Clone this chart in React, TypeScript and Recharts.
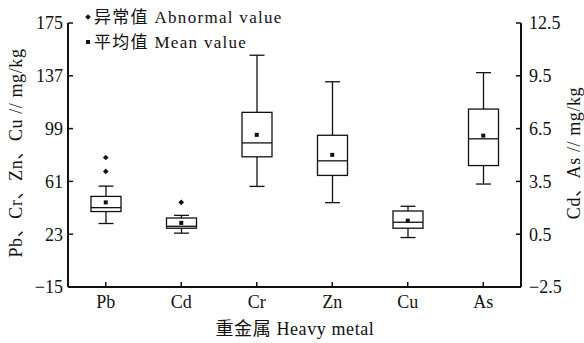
import { ComposedChart, Bar, Scatter, XAxis, YAxis } from "recharts"

const metals = ["Pb", "Cd", "Cr", "Zn", "Cu", "As"]
const axisOf = ["left", "right", "left", "left", "left", "right"]
const whiskerLow = [30.7, 0.56, 57.4, 45.7, 20.6, 3.35]
const quartile1 = [39.3, 0.84, 78.7, 65.3, 27.3, 4.4]
const medians = [42.1, 0.95, 88.7, 75.8, 31.6, 5.92]
const quartile3 = [50.2, 1.42, 110.7, 94.2, 39.7, 7.61]
const whiskerHigh = [57.6, 1.57, 151.8, 132.7, 43.1, 9.68]
const means = [45.9, 1.14, 94.5, 80.1, 32.8, 6.1]
const outliers = [[78.2, 68.2], [2.31], [], [], [], []]

const leftTicks = [-15, 23, 61, 99, 137, 175]
const rightTicks = [-2.5, 0.5, 3.5, 6.5, 9.5, 12.5]

const FONT = "'Liberation Serif', 'Noto Sans CJK SC', serif"
const INK = "#111"

const rows = metals.map((name, i) => {
  const side = axisOf[i]
  const onLeft = side === "left"
  const range = [whiskerLow[i], whiskerHigh[i]]
  const outs = outliers[i]
  return {
    name,
    side,
    low: whiskerLow[i],
    q1: quartile1[i],
    median: medians[i],
    q3: quartile3[i],
    high: whiskerHigh[i],
    leftRange: onLeft ? range : null,
    rightRange: onLeft ? null : range,
    meanLeft: onLeft ? means[i] : null,
    meanRight: onLeft ? null : means[i],
    out0Left: onLeft && outs.length > 0 ? outs[0] : null,
    out1Left: onLeft && outs.length > 1 ? outs[1] : null,
    out0Right: !onLeft && outs.length > 0 ? outs[0] : null,
  }
})

const fmt = (v: number) => (v < 0 ? "\u2212" + Math.abs(v) : String(v))

function BoxShape(props: any) {
  const { x, y, width, height, payload, side } = props
  if (!payload || payload.side !== side || !Number.isFinite(y) || !Number.isFinite(height) || height <= 0) return <g />
  const { low, high, q1, median, q3 } = payload
  const py = (v: number) => y + (height * (high - v)) / (high - low)
  const cx = x + width / 2
  const cap = width / 4
  return (
    <g stroke={INK} strokeWidth={1.3} fill="none">
      <line x1={cx} x2={cx} y1={py(high)} y2={py(q3)} />
      <line x1={cx} x2={cx} y1={py(q1)} y2={py(low)} />
      <line x1={cx - cap} x2={cx + cap} y1={py(high)} y2={py(high)} />
      <line x1={cx - cap} x2={cx + cap} y1={py(low)} y2={py(low)} />
      <rect x={x} y={py(q3)} width={width} height={py(q1) - py(q3)} fill="#fff" />
      <line x1={x} x2={x + width} y1={py(median)} y2={py(median)} />
    </g>
  )
}

function MeanMark(props: any) {
  const { cx, cy, payload, field } = props
  if (!payload || payload[field] == null || !Number.isFinite(cy)) return <g />
  return <rect x={cx - 2} y={cy - 2} width={4} height={4} fill={INK} />
}

function OutlierMark(props: any) {
  const { cx, cy, payload, field } = props
  if (!payload || payload[field] == null || !Number.isFinite(cy)) return <g />
  return <path d={`M${cx},${cy - 2.8} L${cx + 2.8},${cy} L${cx},${cy + 2.8} L${cx - 2.8},${cy} Z`} fill={INK} />
}

function LeftTick({ x, y, payload }: any) {
  return (
    <g>
      <line x1={x} x2={x + 5} y1={y} y2={y} stroke={INK} strokeWidth={1.5} />
      <text x={x - 5} y={y} dy="0.35em" textAnchor="end" fontFamily={FONT} fontSize={18} fill={INK}>
        {fmt(payload.value)}
      </text>
    </g>
  )
}

function RightTick({ x, y, payload }: any) {
  return (
    <g>
      <line x1={x - 5} x2={x} y1={y} y2={y} stroke={INK} strokeWidth={1.5} />
      <text x={x + 8} y={y} dy="0.35em" textAnchor="start" fontFamily={FONT} fontSize={18} fill={INK}>
        {fmt(payload.value)}
      </text>
    </g>
  )
}

function BottomTick({ x, y, payload }: any) {
  return (
    <g>
      <line x1={x} x2={x} y1={y - 5} y2={y} stroke={INK} strokeWidth={1.5} />
      <text x={x} y={y + 21} textAnchor="middle" fontFamily={FONT} fontSize={18} fill={INK}>
        {payload.value}
      </text>
    </g>
  )
}

function Title({ text, x, y, angle }: { text: string; x: number; y: number; angle?: number }) {
  return (
    <text
      x={x}
      y={y}
      transform={angle ? `rotate(${angle} ${x} ${y})` : undefined}
      textAnchor="middle"
      dominantBaseline="central"
      fontFamily={FONT}
      fontSize={18}
      letterSpacing={0.6}
      fill={INK}
    >
      {text}
    </text>
  )
}

export default function App() {
  return (
    <div style={{ position: "absolute", left: 0, top: 0, width: 584, height: 343, background: "#fff" }}>
      <ComposedChart
        width={584}
        height={343}
        data={rows}
        margin={{ top: 23, right: 0, bottom: 0, left: 0 }}
        barGap={-30}
        barSize={30}
      >
        <XAxis
          dataKey="name"
          height={56}
          stroke={INK}
          strokeWidth={2}
          tickLine={false}
          tickSize={0}
          tickMargin={0}
          tick={<BottomTick />}
        />
        <YAxis
          yAxisId="left"
          orientation="left"
          width={68}
          domain={[-15, 175]}
          ticks={leftTicks}
          allowDataOverflow
          stroke={INK}
          strokeWidth={2}
          tickLine={false}
          tickSize={0}
          tickMargin={0}
          tick={<LeftTick />}
        />
        <YAxis
          yAxisId="right"
          orientation="right"
          width={63}
          domain={[-2.5, 12.5]}
          ticks={rightTicks}
          allowDataOverflow
          stroke={INK}
          strokeWidth={2}
          tickLine={false}
          tickSize={0}
          tickMargin={0}
          tick={<RightTick />}
        />
        <Bar
          yAxisId="left"
          dataKey="leftRange"
          isAnimationActive={false}
          shape={(p: any) => <BoxShape {...p} side="left" />}
        />
        <Bar
          yAxisId="right"
          dataKey="rightRange"
          isAnimationActive={false}
          shape={(p: any) => <BoxShape {...p} side="right" />}
        />
        <Scatter yAxisId="left" dataKey="meanLeft" isAnimationActive={false} shape={(p: any) => <MeanMark {...p} field="meanLeft" />} />
        <Scatter yAxisId="right" dataKey="meanRight" isAnimationActive={false} shape={(p: any) => <MeanMark {...p} field="meanRight" />} />
        <Scatter yAxisId="left" dataKey="out0Left" isAnimationActive={false} shape={(p: any) => <OutlierMark {...p} field="out0Left" />} />
        <Scatter yAxisId="left" dataKey="out1Left" isAnimationActive={false} shape={(p: any) => <OutlierMark {...p} field="out1Left" />} />
        <Scatter yAxisId="right" dataKey="out0Right" isAnimationActive={false} shape={(p: any) => <OutlierMark {...p} field="out0Right" />} />
      </ComposedChart>
      <svg width={584} height={343} style={{ position: "absolute", left: 0, top: 0, pointerEvents: "none" }}>
        <Title text="Pb、Cr、Zn、Cu // mg/kg" x={16} y={153} angle={-90} />
        <Title text="Cd、As // mg/kg" x={574} y={153} angle={-90} />
        <Title text="重金属 Heavy metal" x={295} y={329} />
        <path d="M88,14.2 L90.8,17 L88,19.8 L85.2,17 Z" fill={INK} />
        <text x={94} y={17} dominantBaseline="central" fontFamily={FONT} fontSize={17} letterSpacing={1.3} fill={INK}>
          异常值 Abnormal value
        </text>
        <rect x={86} y={40} width={4} height={4} fill={INK} />
        <text x={94} y={42} dominantBaseline="central" fontFamily={FONT} fontSize={17} letterSpacing={1.3} fill={INK}>
          平均值 Mean value
        </text>
      </svg>
    </div>
  )
}
